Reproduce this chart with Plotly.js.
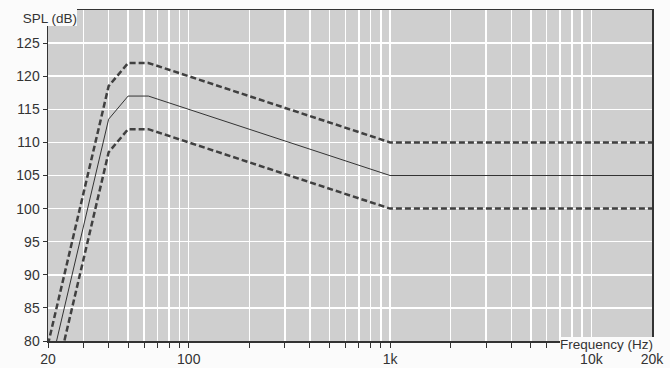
<!DOCTYPE html>
<html>
<head>
<meta charset="utf-8">
<script src="https://cdn.plot.ly/plotly-3.0.1.min.js"></script>
<style>
  html, body { margin: 0; padding: 0; background: #fbfbfb; }
  #chart { width: 670px; height: 368px; }
</style>
</head>
<body>
<div id="chart"></div>
<script>
// Frequency points (Hz)
const freq = [20, 40, 50, 63, 1000, 20000];
// Nominal SPL (dB)
const nominal = [74.5, 113.5, 117, 117, 105, 105];
// Upper tolerance (dB)
const upper = [79.5, 118.5, 122, 122, 110, 110];
// Lower tolerance (dB)
const lower = [69.5, 108.5, 112, 112, 100, 100];

// Axis ticks
const xTickVals = [20,30,40,50,60,70,80,90,100,200,300,400,500,600,700,800,900,1000,2000,3000,4000,5000,6000,7000,8000,9000,10000,20000];
const xTickText = ['20','','','','','','','','100','','','','','','','','','1k','','','','','','','','','10k','20k'];
const yTickVals = [80,85,90,95,100,105,110,115,120,125];
const yTickText = ['80','85','90','95','100','105','110','115','120','125'];

const dashStyle = {color: '#404040', width: 2.5, dash: '6px,3px'};

const traces = [
  {x: freq, y: upper, mode: 'lines', line: dashStyle, hoverinfo: 'skip'},
  {x: freq, y: lower, mode: 'lines', line: dashStyle, hoverinfo: 'skip'},
  {x: freq, y: nominal, mode: 'lines', line: {color: '#333333', width: 1}, hoverinfo: 'skip'}
];

const tickFont = {family: '"Liberation Sans Narrow", "Arial Narrow", Arial, sans-serif', size: 14, color: '#333333'};
const titleFont = {family: '"Liberation Sans", Arial, sans-serif', size: 13.5, color: '#333333'};

const layout = {
  width: 670, height: 368,
  margin: {l: 48, r: 18, t: 10, b: 27, pad: 0},
  paper_bgcolor: '#fbfbfb',
  plot_bgcolor: '#cfcfcf',
  showlegend: false,
  xaxis: {
    type: 'log',
    range: [Math.log10(20), Math.log10(20000)],
    tickmode: 'array', tickvals: xTickVals, ticktext: xTickText,
    showgrid: true, gridcolor: '#ffffff', gridwidth: 1.5,
    ticks: 'outside', ticklen: 5, tickwidth: 1, tickcolor: '#333333',
    showline: true, linecolor: '#333333', linewidth: 1.5, mirror: true,
    zeroline: false, tickfont: tickFont, fixedrange: true
  },
  yaxis: {
    range: [80, 130],
    tickmode: 'array', tickvals: yTickVals, ticktext: yTickText,
    showgrid: true, gridcolor: '#ffffff', gridwidth: 1.5,
    ticks: 'outside', ticklen: 4, tickwidth: 1, tickcolor: '#333333',
    showline: true, linecolor: '#333333', linewidth: 1.5, mirror: true,
    zeroline: false, tickfont: tickFont, fixedrange: true
  },
  annotations: [
    {
      text: 'SPL (dB)', xref: 'paper', yref: 'paper',
      x: (-2 - 48) / 604, y: (341 - 0) / 331,
      xanchor: 'left', yanchor: 'top',
      width: 79, height: 26, align: 'right', valign: 'bottom',
      showarrow: false, bgcolor: '#fbfbfb', borderpad: 0, borderwidth: 0,
      font: titleFont
    },
    {
      text: 'Frequency (Hz)', xref: 'paper', yref: 'paper',
      x: (560 - 48) / 604, y: (341 - 337) / 331,
      xanchor: 'left', yanchor: 'top',
      width: 96, height: 15, align: 'left', valign: 'middle',
      showarrow: false, bgcolor: '#fbfbfb', borderpad: 0, borderwidth: 0,
      font: titleFont
    }
  ]
};

Plotly.newPlot('chart', traces, layout, {staticPlot: true, displayModeBar: false});
</script>
</body>
</html>
